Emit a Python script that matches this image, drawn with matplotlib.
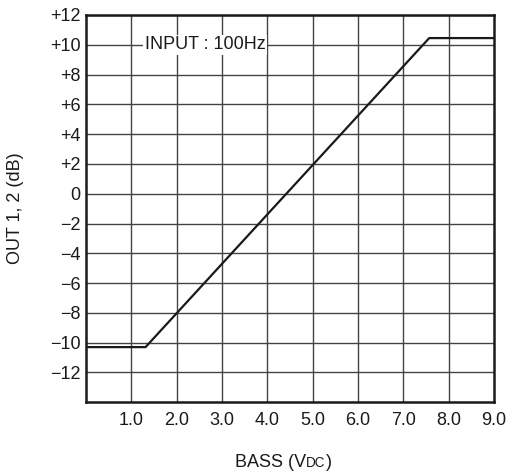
import matplotlib
matplotlib.use("Agg")
import matplotlib.pyplot as plt

plt.rcParams['font.family'] = ['Liberation Sans', 'DejaVu Sans']

# response curve
bass_v = [0.0, 1.31, 7.57, 9.0]
out_db = [-10.3, -10.3, 10.45, 10.45]

x_ticks = [1, 2, 3, 4, 5, 6, 7, 8, 9]
x_labels = ['1.0', '2.0', '3.0', '4.0', '5.0', '6.0', '7.0', '8.0', '9.0']
y_ticks = [-12, -10, -8, -6, -4, -2, 0, 2, 4, 6, 8, 10, 12]
y_labels = ['\u221212', '\u221210', '\u22128', '\u22126', '\u22124', '\u22122', '0',
            '+2', '+4', '+6', '+8', '+10', '+12']

fs = 13
ink = '#1a1a1a'

fig = plt.figure(figsize=(5.13, 4.76), dpi=100)
ax = fig.add_axes([0.168, 0.155, 0.795, 0.8135])

ax.set_xlim(0, 9)
ax.set_ylim(-14, 12)

#grid
for xv in range(1, 9):
    ax.axvline(xv, color='#444444', lw=1.0, zorder=1)
for yv in y_ticks:
    ax.axhline(yv, color='#444444', lw=1.0, zorder=1)

ax.plot(bass_v, out_db, color=ink, lw=1.6, zorder=3)

ax.text(1.29, 10, 'INPUT : 100Hz', fontsize=fs, va='center', ha='left', color=ink,
        bbox=dict(facecolor='white', edgecolor='none', pad=1.0), zorder=2)

ax.set_xticks(x_ticks)
ax.set_xticklabels(x_labels)
ax.set_yticks(y_ticks)
ax.set_yticklabels(y_labels)
ax.tick_params(length=0, labelsize=fs, colors=ink)
ax.tick_params(axis='x', pad=7)
ax.tick_params(axis='y', pad=4)

for s in ax.spines.values():
    s.set_linewidth(1.8)
    s.set_color(ink)

ax.set_ylabel('OUT 1, 2 (dB)', fontsize=fs, color=ink)
ax.yaxis.set_label_coords(-0.152, 0.5)

# x label with small-caps "DC", pieced together on one baseline
fig.canvas.draw()
r = fig.canvas.get_renderer()
base_y = 0.019
parts = [('BASS (V', fs), ('DC', fs * 0.75), (')', fs)]
xpos = 235 / 513
for txt, size in parts:
    t = fig.text(xpos, base_y, txt, fontsize=size, ha='left', va='baseline', color=ink)
    w = t.get_window_extent(renderer=r).width
    xpos += w / fig.bbox.width

fig.savefig('out.png', dpi=100)
